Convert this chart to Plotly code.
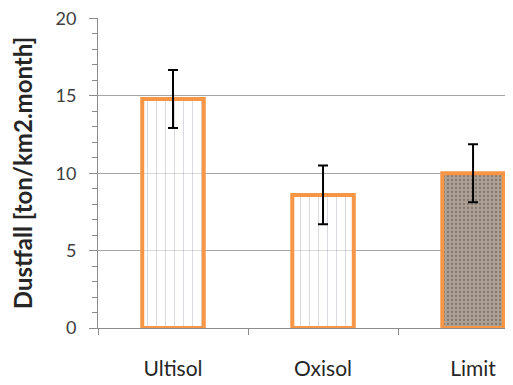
import plotly.graph_objects as go

categories = ["Ultisol", "Oxisol", "Limit"]
values = [14.8, 8.6, 10.0]
errors = [1.87, 1.9, 1.87]
y_ticks = [0, 5, 10, 15, 20]

font = "Lato"
axis_col = "#8c8c8c"

fig = go.Figure()
fig.add_trace(go.Bar(
    x=categories[:2], y=values[:2],
    width=0.41,
    marker=dict(
        color="rgba(255,255,255,0.55)",
        line=dict(color="#f79646", width=4),
        pattern=dict(shape="|", fgcolor="#7f8b99", bgcolor="rgba(255,255,255,0.6)",
                     size=9, solidity=0.1, fgopacity=0.35),
    ),
    error_y=dict(type="data", array=errors[:2], color="black", thickness=2, width=5),
    showlegend=False,
))
fig.add_trace(go.Bar(
    x=categories[2:], y=values[2:],
    width=0.41,
    marker=dict(
        color="#a4978b",
        line=dict(color="#f79646", width=4),
        pattern=dict(shape=".", fgcolor="#6f645a", bgcolor="#ada195",
                     size=4, solidity=0.25, fgopacity=0.7),
    ),
    error_y=dict(type="data", array=errors[2:], color="black", thickness=2, width=5),
    showlegend=False,
))

# page body has an 8px default margin; figure is sized/offset to compensate
fig.update_layout(
    width=505, height=377,
    margin=dict(l=90, r=5, t=10, b=57),
    paper_bgcolor="white", plot_bgcolor="white",
    font=dict(family=font, color="#404040"),
    barmode="group",
)
fig.update_xaxes(
    type="category",
    categoryorder="array", categoryarray=categories,
    range=[-0.5, 2.233],
    automargin=False,
    showline=True, linecolor=axis_col, linewidth=1,
    ticks="outside", tickson="boundaries", ticklen=6, tickcolor=axis_col,
    showgrid=False,
    tickfont=dict(size=21, family=font, color="#262626"),
    ticklabelstandoff=22,
)
fig.update_yaxes(
    range=[0, 20.03],
    automargin=False,
    tickvals=y_ticks, ticktext=[str(v) for v in y_ticks],
    ticklabeloverflow="allow",
    showline=True, linecolor=axis_col, linewidth=1,
    ticks="outside", ticklen=8, tickcolor=axis_col,
    minor=dict(dtick=1, ticks="outside", ticklen=5, tickcolor=axis_col, showgrid=False),
    showgrid=True, gridcolor="#a6a6a6", gridwidth=1,
    zeroline=False,
    tickfont=dict(size=18, family=font, color="#404040"),
    ticklabelstandoff=9,
    title=dict(text="<b>Dustfall [ton/km2.month]</b>",
               font=dict(size=24, family=font, color="#262626"), standoff=16),
)

fig.write_html("out.html")
